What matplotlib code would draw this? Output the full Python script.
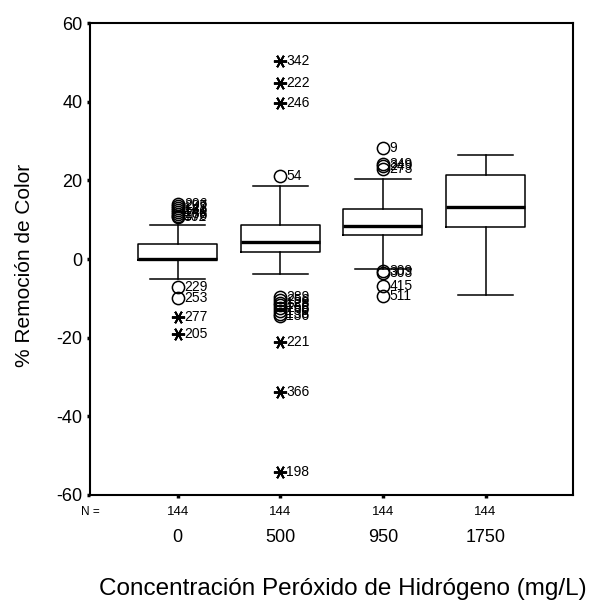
import numpy as np
import matplotlib.pyplot as plt

plt.rcParams['font.family'] = ['Liberation Sans', 'DejaVu Sans']
plt.rcParams['axes.unicode_minus'] = False

# Grupos de concentración y tamaño de muestra
grupos = ['0', '500', '950', '1750']
n_muestras = [144, 144, 144, 144]

# Estadísticos de cada caja [% remoción]
q1 = [-0.3, 1.8, 6.0, 8.1]
mediana = [0.0, 4.4, 8.3, 13.2]
q3 = [3.9, 8.6, 12.6, 21.3]
bigote_inf = [-5.0, -3.7, -2.6, -9.2]
bigote_sup = [8.6, 18.7, 20.3, 26.5]

# Valores atípicos (círculos): grupo, valor, caso
atip_grupo = [0, 0, 0, 0, 0, 0, 0, 0, 0, 0,
              1, 1, 1, 1, 1, 1, 1, 1, 1,
              2, 2, 2, 2, 2, 2, 2, 2]
atip_valor = [14.0, 13.5, 13.0, 12.5, 12.0, 11.5, 11.0, 10.6, -7.1, -10.0,
              21.2, -9.6, -10.4, -11.1, -11.8, -12.5, -13.2, -13.9, -14.6,
              28.3, 24.3, 23.6, 22.9, -3.1, -3.6, -6.9, -9.5]
atip_caso = ['206', '297', '143', '131', '140', '288', '176', '302', '229', '253',
             '54', '289', '256', '128', '188', '258', '150', '138', '136',
             '9', '349', '249', '273', '309', '303', '415', '511']

# Valores extremos (asteriscos): grupo, valor, caso
ext_grupo = [0, 0, 1, 1, 1, 1, 1, 1]
ext_valor = [-14.7, -19.2, 50.4, 44.9, 39.8, -21.1, -33.9, -54.1]
ext_caso = ['277', '205', '342', '222', '246', '221', '366', '198']

fig = plt.figure(figsize=(5.93, 6.06), dpi=100)
ax = fig.add_axes([0.1523, 0.1835, 0.8137, 0.7782])

pos = np.arange(1, len(grupos) + 1)
stats = []
for i in range(len(grupos)):
    stats.append({'med': mediana[i], 'q1': q1[i], 'q3': q3[i],
                  'whislo': bigote_inf[i], 'whishi': bigote_sup[i],
                  'fliers': []})

ax.bxp(stats, positions=pos, widths=0.77, capwidths=0.54, showfliers=False,
       boxprops=dict(color='black', linewidth=1.1),
       whiskerprops=dict(color='black', linewidth=1.1),
       capprops=dict(color='black', linewidth=1.1),
       medianprops=dict(color='black', linewidth=2.4))

# Círculos y asteriscos con el número de caso
xa = pos[np.array(atip_grupo)]
ax.plot(xa, atip_valor, linestyle='none', marker='o', markersize=8.8,
        mfc='none', mec='black', mew=1.1)
for x, v, c in zip(xa, atip_valor, atip_caso):
    ax.annotate(c, (x, v), xytext=(4.5, 0), textcoords='offset points',
                ha='left', va='center', fontsize=10)

xe = pos[np.array(ext_grupo)]
ax.plot(xe, ext_valor, linestyle='none', marker=(6, 2, 30), markersize=9.5,
        mec='black', mew=1.4)
for x, v, c in zip(xe, ext_valor, ext_caso):
    ax.annotate(c, (x, v), xytext=(4.5, 0), textcoords='offset points',
                ha='left', va='center', fontsize=10)

ax.set_xlim(0.15, 4.85)
ax.set_ylim(-60, 60)
ax.set_yticks(np.arange(-60, 61, 20))
ax.set_xticks(pos)
ax.set_xticklabels(grupos, fontsize=13)
ax.tick_params(axis='y', labelsize=13, length=2.5, width=2.5, pad=3)
ax.tick_params(axis='x', length=2.5, width=2.5, pad=22)
for s in ax.spines.values():
    s.set_linewidth(1.5)

# Fila de N debajo del eje
trans = ax.get_xaxis_transform()
ax.text(0.147, -0.0365, 'N =', transform=trans, ha='center', va='center', fontsize=8.5)
for p, n in zip(pos, n_muestras):
    ax.text(p, -0.0365, str(n), transform=trans, ha='center', va='center', fontsize=9.5)

fig.text(99 / 593, 1 - 589.5 / 606, 'Concentración Peróxido de Hidrógeno (mg/L)',
         ha='left', va='center', fontsize=17.5)
fig.text(24.7 / 593, 1 - 265 / 606, '% Remoción de Color', rotation=90,
         ha='center', va='center', fontsize=15)

fig.savefig('out.png', dpi=100)
